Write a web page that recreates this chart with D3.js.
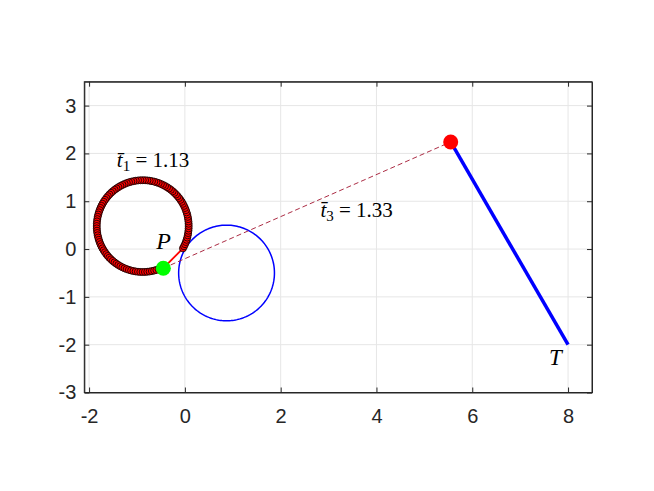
<!DOCTYPE html>
<html>
<head>
<meta charset="utf-8">
<script src="https://cdn.jsdelivr.net/npm/d3@7"></script>
<style>
  body { margin: 0; background: #fff; }
  .tick text { font-family: "Liberation Sans", Arial, sans-serif; font-size: 20px; fill: #262626; }
  .lbl { font-family: "Liberation Serif", "DejaVu Serif", serif; fill: #000; }
</style>
</head>
<body>
<div id="chart"></div>
<script>
"use strict"

// axis ticks
const xTicks = [-2, 0, 2, 4, 6, 8]
const yTicks = [-3, -2, -1, 0, 1, 2, 3]
const xDomain = [-2.1, 8.5]
const yDomain = [-3, 3.5]

// first circle (marked path) and second circle
const circle1 = { cx: -0.88, cy: 0.48, r: 0.96 }
const circle2 = { cx: 0.87, cy: -0.5, r: 1.0 }
const markedArcDeg = [-29, 296]   // start / end angle of the marker run
const markerCount = 112

// points
const pointP = [-0.45, -0.40]
const pointR = [5.55, 2.24]
const pointT = [8, -2]

// labels
const labels = [
    { x: -1.42, y: 1.72, sub: "1", val: " = 1.13" },
    { x: 2.83, y: 0.68, sub: "3", val: " = 1.33" }
]

const chart = (function() {
    const W = 654, H = 491
    const frame = { l: 84.3, r: 592, t: 81.7, b: 392.5 }

    const x = d3.scaleLinear().domain(xDomain).range([frame.l, frame.r])
    const y = d3.scaleLinear().domain(yDomain).range([frame.b, frame.t])

    const svg = d3.select("#chart").append("svg")
        .attr("width", W).attr("height", H)

    // grid
    svg.append("g").selectAll("line").data(xTicks).enter().append("line")
        .attr("x1", d => x(d)).attr("x2", d => x(d))
        .attr("y1", frame.t).attr("y2", frame.b)
        .attr("stroke", "#e6e6e6").attr("stroke-width", 1)
    svg.append("g").selectAll("line").data(yTicks).enter().append("line")
        .attr("y1", d => y(d)).attr("y2", d => y(d))
        .attr("x1", frame.l).attr("x2", frame.r)
        .attr("stroke", "#e6e6e6").attr("stroke-width", 1)

    const arcPts = (c, a0, a1, n) => d3.range(n + 1).map(i => {
        const a = (a0 + (a1 - a0) * i / n) * Math.PI / 180
        return [c.cx + c.r * Math.cos(a), c.cy + c.r * Math.sin(a)]
    })
    const line = d3.line().x(d => x(d[0])).y(d => y(d[1]))

    const plot = svg.append("g")

    // second circle
    plot.append("path")
        .attr("d", line(arcPts(circle2, 0, 360, 200)))
        .attr("fill", "none").attr("stroke", "#0000ff").attr("stroke-width", 1.5)

    // dashed link P -> R
    plot.append("path")
        .attr("d", line([pointP, pointR]))
        .attr("fill", "none").attr("stroke", "#a2142f").attr("stroke-width", 0.9)
        .attr("stroke-dasharray", "5,3")

    // thick blue segment R -> T
    plot.append("path")
        .attr("d", line([pointR, pointT]))
        .attr("fill", "none").attr("stroke", "#0000ff").attr("stroke-width", 3.5)

    // red path along first circle plus tail to P
    const ring = arcPts(circle1, markedArcDeg[0], markedArcDeg[1], 200)
    plot.append("path")
        .attr("d", line(ring))
        .attr("fill", "none").attr("stroke", "#ff0000").attr("stroke-width", 1.5)
    plot.append("path")
        .attr("d", line([ring[0], pointP]))
        .attr("fill", "none").attr("stroke", "#ff0000").attr("stroke-width", 1.8)

    // markers
    plot.append("g").selectAll("circle")
        .data(arcPts(circle1, markedArcDeg[0], markedArcDeg[1], markerCount))
        .enter().append("circle")
            .attr("cx", d => x(d[0])).attr("cy", d => y(d[1]))
            .attr("r", 3.5).attr("fill", "#ff0000")
            .attr("stroke", "#000").attr("stroke-width", 0.8)

    // P and R dots
    plot.append("circle")
        .attr("cx", x(pointP[0])).attr("cy", y(pointP[1]))
        .attr("r", 7.5).attr("fill", "#00ff00")
    plot.append("circle")
        .attr("cx", x(pointR[0])).attr("cy", y(pointR[1]))
        .attr("r", 7.5).attr("fill", "#ff0000")

    // text labels
    plot.append("text").attr("class", "lbl")
        .attr("x", x(-0.6)).attr("y", y(0.0))
        .style("font-style", "italic").style("font-size", "24px")
        .text("P")
    plot.append("text").attr("class", "lbl")
        .attr("x", x(7.6)).attr("y", y(-2.42))
        .style("font-style", "italic").style("font-size", "23px")
        .text("T")

    labels.forEach(l => {
        const t = plot.append("text").attr("class", "lbl")
            .attr("x", x(l.x)).attr("y", y(l.y))
            .style("font-size", "21px")
        t.append("tspan").style("font-style", "italic").text("t\u0304")
        t.append("tspan").style("font-size", "15px").attr("dy", 4).text(l.sub)
        t.append("tspan").attr("dy", -4).text(l.val)
    })

    // axes with inward ticks on all sides
    const fmt = d => d < 0 ? "-" + Math.abs(d) : d
    const ax = svg.append("g")
    ax.append("g").attr("transform", `translate(0,${frame.b})`)
        .call(d3.axisBottom(x).tickValues(xTicks).tickSizeInner(-5).tickSizeOuter(0).tickPadding(16).tickFormat(fmt))
    ax.append("g").attr("transform", `translate(0,${frame.t})`)
        .call(d3.axisTop(x).tickValues(xTicks).tickSizeInner(-5).tickSizeOuter(0).tickFormat(""))
    ax.append("g").attr("transform", `translate(${frame.l},0)`)
        .call(d3.axisLeft(y).tickValues(yTicks).tickSizeInner(-5).tickSizeOuter(0).tickPadding(8).tickFormat(fmt))
    ax.append("g").attr("transform", `translate(${frame.r},0)`)
        .call(d3.axisRight(y).tickValues(yTicks).tickSizeInner(-5).tickSizeOuter(0).tickFormat(""))
    ax.selectAll(".domain").attr("stroke", "#262626")
    ax.selectAll(".tick line").attr("stroke", "#262626")

    svg.append("rect")
        .attr("x", frame.l).attr("y", frame.t)
        .attr("width", frame.r - frame.l).attr("height", frame.b - frame.t)
        .attr("fill", "none").attr("stroke", "#262626").attr("stroke-width", 1)
})()
</script>
</body>
</html>
